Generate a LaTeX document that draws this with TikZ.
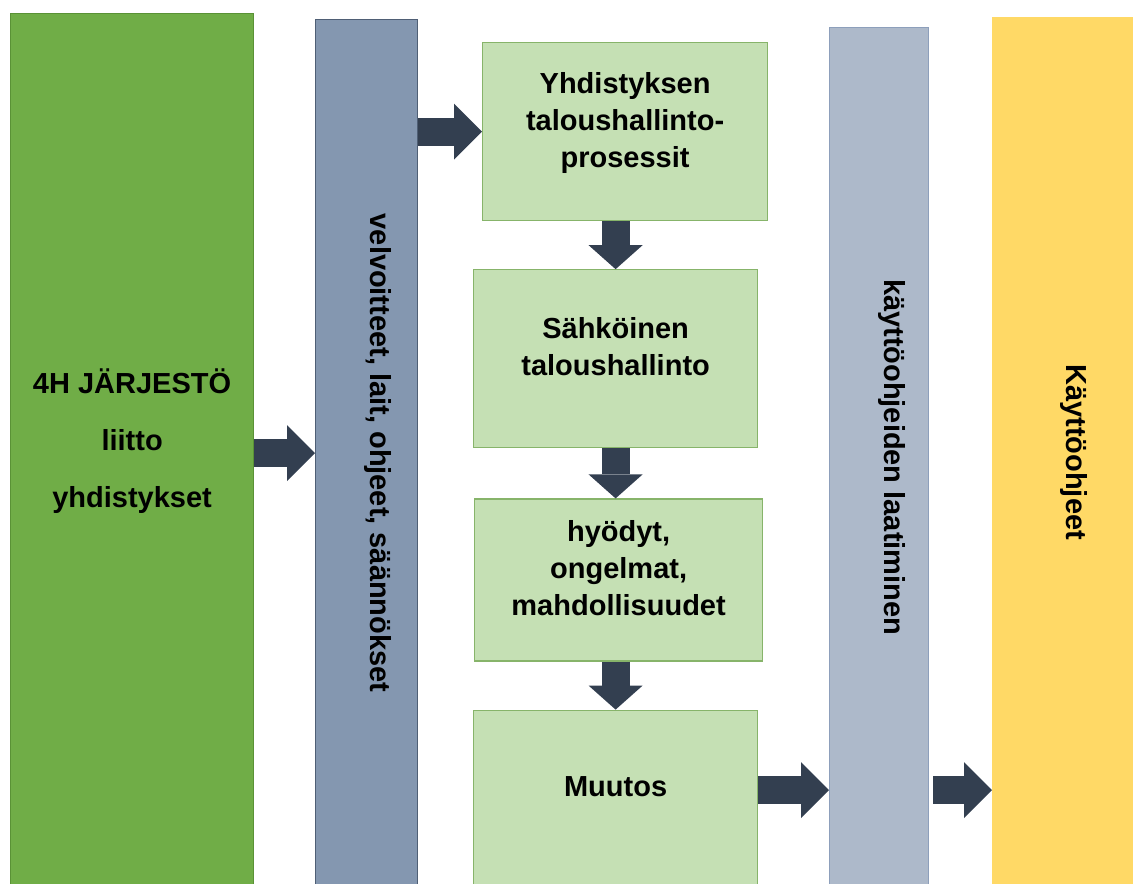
\documentclass[tikz,border=0pt]{standalone}
\usepackage{fontspec}
\setmainfont{Liberation Sans}
\usetikzlibrary{arrows.meta, positioning}
\usepackage{xcolor}

\definecolor{orggreen}{HTML}{70AD47}
\definecolor{orgedge}{HTML}{5A9236}
\definecolor{rulegray}{HTML}{8497B0}
\definecolor{ruleedge}{HTML}{4F5F75}
\definecolor{writegray}{HTML}{ADB9CA}
\definecolor{writeedge}{HTML}{8D9FBB}
\definecolor{guideyellow}{HTML}{FFD966}
\definecolor{procgreen}{HTML}{C5E0B4}
\definecolor{procedge}{HTML}{87B46A}
\definecolor{arrowdark}{HTML}{333F50}

\begin{document}
\begin{tikzpicture}[
        x=0.5pt, y=-0.5pt,
        column/.style={rectangle, line width=0.6pt, anchor=north west, inner sep=0pt, font=\fontsize{14.5}{18.5}\selectfont\bfseries},
        box/.style={rectangle, draw=procedge, fill=procgreen, line width=0.6pt, align=center, inner sep=0pt, text depth=12pt, minimum width=142pt, minimum height=89pt, font=\fontsize{14.5}{18.5}\selectfont\bfseries},
        fat/.style={line width=14pt, draw=arrowdark, -{Triangle[length=14pt, width=28pt, line width=0pt]}},
        down/.style={line width=14pt, draw=arrowdark, -{Triangle[length=12pt, width=27pt, line width=0pt]}}
    ]
        \clip (0,0) rectangle (1133,883);

        % Columns
        \node (org) [column, fill=orggreen, draw=orgedge, minimum width=121.5pt, minimum height=436.5pt, align=center, text depth=12pt, font=\fontsize{14.5}{28.5}\selectfont\bfseries] at (10,13) {4H JÄRJESTÖ\\liitto\\yhdistykset};
        \node (rules) [column, fill=rulegray, draw=ruleedge, minimum width=51pt, minimum height=433.5pt] at (315,19) {\hspace*{11pt}\rotatebox{-90}{velvoitteet, lait, ohjeet, säännökset}};
        \node (writing) [column, fill=writegray, draw=writeedge, minimum width=49.5pt, minimum height=429.5pt] at (829,27) {\hspace*{13pt}\rotatebox{-90}{käyttöohjeiden laatiminen}};
        \node (guides) [column, fill=guideyellow, draw=guideyellow, minimum width=75pt, minimum height=434.5pt] at (992,17) {\hspace*{6pt}\rotatebox{-90}{Käyttöohjeet}};

        % Process boxes
        \node (yhd) [box, anchor=north west, minimum width=142.5pt] at (482,42) {Yhdistyksen\\taloushallinto-\\prosessit};
        \node (sahko) [box, below=24pt of yhd, xshift=-4.75pt] {Sähköinen\\taloushallinto};
        \node (hyody) [box, below=25pt of sahko, xshift=1.5pt, minimum width=144pt, minimum height=81pt] {hyödyt,\\ongelmat,\\mahdollisuudet};
        \node (muutos) [box, below=24pt of hyody, xshift=-1.5pt, minimum height=88pt] {Muutos};

        % Arrows
        \draw [fat] (org.east |- rules.west) -- (rules.west);
        \draw [fat] (rules.east |- yhd.west) -- (yhd.west);
        \draw [down] (yhd.south -| sahko.north) -- (sahko.north);
        \draw [down] (sahko.south) -- (sahko.south |- hyody.north);
        \draw [down] (hyody.south -| muutos.north) -- (muutos.north);
        \coordinate (out) at ([yshift=4pt]muutos.east);
        \draw [fat] (out) -- (out -| writing.west);
        \draw [fat] ([xshift=2pt]out -| writing.east) -- (out -| guides.west);
    \end{tikzpicture}
\end{document}
